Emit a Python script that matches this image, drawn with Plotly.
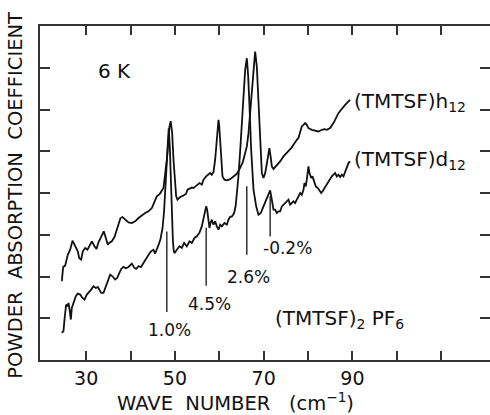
import plotly.graph_objects as go

# Far-infrared powder absorption of (TMTSF)2PF6 at 6 K, h12 and d12 samples
wn_h12 = [24.52, 24.82, 25.27, 25.87, 26.40, 26.92, 27.37, 27.75, 28.12, 28.42, 28.87, 29.25,
          29.78, 30.30, 30.68, 31.28, 31.88, 32.33, 32.78, 33.38, 33.98, 34.43, 34.88, 35.18,
          35.78, 36.38, 36.91, 37.29, 37.74, 38.19, 38.79, 39.54, 40.29, 41.04, 41.79, 42.69,
          43.29, 44.05, 44.42, 44.80, 45.92, 46.60, 47.42, 47.80, 48.18, 48.55, 48.78, 49.05,
          49.38, 49.68, 49.98, 50.28, 50.58, 51.18, 51.93, 52.53, 52.83, 53.28, 53.81, 54.18,
          54.56, 55.09, 55.54, 56.06, 56.44, 57.04, 57.56, 57.94, 58.31, 58.69, 59.07, 59.37,
          59.67, 59.82, 59.97, 60.19, 60.42, 60.72, 61.17, 61.70, 62.45, 63.20, 63.95, 64.70,
          65.30, 65.83, 66.21, 66.58, 66.96, 67.33, 67.71, 68.08, 68.46, 68.83, 69.21, 69.59,
          69.96, 70.34, 70.71, 71.09, 71.28, 71.61, 71.84, 72.21, 72.96, 73.71, 74.46, 75.21,
          75.74, 76.19, 76.71, 77.09, 77.47, 77.84, 78.22, 78.59, 78.97, 79.34, 79.72, 80.09,
          80.85, 81.60, 82.35, 83.10, 83.70, 84.22, 84.98, 85.73, 86.10, 86.48, 86.85, 87.45,
          87.98, 88.36, 89.11, 89.48]
abs_h12 = [1.886, 2.229, 2.261, 2.524, 2.643, 2.859, 2.763, 2.683, 2.603, 2.444, 2.404, 2.603,
           2.683, 2.643, 2.723, 2.843, 2.723, 2.659, 2.819, 2.962, 3.082, 2.922, 2.763, 2.803,
           2.843, 2.946, 3.138, 3.281, 3.401, 3.425, 3.361, 3.297, 3.281, 3.321, 3.401, 3.481,
           3.521, 3.560, 3.600, 3.640, 3.919, 3.980, 4.119, 4.398, 4.797, 5.275, 5.594, 5.720,
           5.435, 4.797, 4.318, 3.919, 3.840, 3.904, 3.940, 3.983, 4.078, 4.100, 4.130, 4.118,
           4.158, 4.198, 4.238, 4.199, 4.318, 4.397, 4.437, 4.477, 4.437, 4.500, 4.797, 5.196,
           5.594, 5.754, 5.634, 5.196, 4.717, 4.398, 4.318, 4.302, 4.330, 4.400, 4.460, 4.600,
           4.740, 4.956, 5.115, 5.434, 5.913, 6.471, 7.029, 7.388, 7.029, 6.072, 5.035, 4.477,
           4.358, 4.477, 4.700, 4.950, 5.076, 4.840, 4.637, 4.577, 4.657, 4.757, 4.876, 4.956,
           5.036, 5.076, 5.156, 5.235, 5.275, 5.315, 5.474, 5.594, 5.634, 5.674, 5.634, 5.554,
           5.514, 5.498, 5.474, 5.514, 5.530, 5.514, 5.554, 5.674, 5.754, 5.873, 5.913, 5.993,
           6.073, 6.112, 6.192, 6.232]

wn_d12 = [24.52, 24.89, 25.12, 25.49, 25.79, 26.02, 26.32, 26.55, 26.77, 27.15, 27.67, 28.12,
          28.65, 29.17, 29.63, 30.15, 30.53, 31.13, 31.65, 32.18, 32.63, 33.01, 33.38, 33.91,
          34.28, 34.88, 35.41, 35.93, 36.53, 36.99, 37.44, 37.89, 38.41, 38.94, 39.54, 40.29,
          40.89, 41.27, 41.79, 42.39, 42.92, 43.44, 43.89, 44.42, 44.80, 45.17, 45.55, 45.92,
          46.30, 46.75, 47.20, 47.55, 47.85, 48.15, 48.40, 48.60, 48.85, 49.10, 49.35, 49.55,
          49.75, 49.95, 50.43, 51.03, 51.56, 52.08, 52.68, 53.28, 53.81, 54.41, 54.94, 55.54,
          56.06, 56.44, 56.81, 57.04, 57.26, 57.56, 57.79, 58.02, 58.32, 58.69, 59.07, 59.44,
          59.82, 60.19, 60.57, 61.17, 61.70, 62.07, 62.45, 62.85, 63.35, 63.70, 63.95, 64.32,
          64.70, 65.08, 65.45, 65.83, 66.21, 66.51, 66.81, 67.18, 67.71, 68.31, 68.83, 69.36,
          69.96, 70.56, 71.09, 71.46, 71.84, 72.21, 72.58, 72.97, 73.33, 73.72, 74.09, 74.84,
          75.59, 75.96, 76.34, 76.71, 77.09, 77.47, 77.84, 78.22, 78.59, 78.97, 79.19, 79.49,
          79.72, 79.94, 80.09, 80.32, 80.70, 81.00, 81.45, 81.75, 82.20, 82.50, 82.95, 83.25,
          83.70, 84.22, 84.60, 84.98, 85.35, 85.73, 86.10, 86.48, 86.85, 87.23, 87.60, 87.98,
          88.36, 88.73, 89.11, 89.48]
abs_d12 = [0.650, 0.690, 0.969, 1.328, 1.288, 1.367, 1.168, 0.969, 1.248, 1.367, 1.527, 1.591,
           1.567, 1.487, 1.447, 1.567, 1.607, 1.686, 1.766, 1.726, 1.750, 1.686, 1.607, 1.607,
           1.726, 1.926, 2.045, 2.005, 1.926, 1.966, 2.085, 2.181, 2.229, 2.197, 2.229, 2.309,
           2.205, 2.181, 2.245, 2.229, 2.324, 2.420, 2.468, 2.580, 2.620, 2.640, 2.550, 2.640,
           2.750, 2.900, 3.150, 3.550, 4.100, 4.750, 5.250, 5.550, 5.100, 4.200, 3.400, 2.850,
           2.600, 2.560, 2.643, 2.723, 2.683, 2.803, 2.723, 2.843, 2.803, 2.923, 2.962, 3.050,
           3.200, 3.400, 3.601, 3.680, 3.601, 3.361, 3.162, 3.282, 3.361, 3.242, 3.322, 3.202,
           3.122, 3.242, 3.202, 3.282, 3.242, 3.361, 3.430, 3.440, 3.520, 3.700, 3.950, 4.400,
           5.000, 5.700, 6.400, 6.950, 7.228, 6.800, 6.072, 5.035, 4.078, 3.680, 3.480, 3.520,
           3.680, 3.839, 3.999, 4.063, 3.839, 3.600, 3.600, 3.520, 3.560, 3.560, 3.680, 3.760,
           3.840, 3.720, 3.760, 3.800, 3.760, 3.840, 3.919, 3.999, 3.959, 4.079, 4.238, 4.159,
           4.318, 4.557, 4.637, 4.478, 4.358, 4.398, 4.278, 4.159, 4.119, 4.079, 3.999, 4.039,
           4.119, 4.199, 4.278, 4.318, 4.398, 4.438, 4.478, 4.398, 4.438, 4.382, 4.438, 4.398,
           4.517, 4.637, 4.717, 4.757]

# isotope-shift markers under the d12 lines
shift_wn = [48.18, 57.04, 66.20, 71.46]
shift_top = [3.08, 3.17, 4.16, 3.92]
shift_bottom = [1.15, 1.78, 2.52, 2.96]
shift_text = ["1.0%", "4.5%", "2.6%", "-0.2%"]
shift_label_wn = [48.70, 57.72, 66.50, 75.29]
shift_label_y = [0.71, 1.33, 2.00, 2.69]

x_ticks = [30, 40, 50, 60, 70, 80, 90, 100, 110]
x_ticktext = ["30", "", "50", "", "70", "", "90", "", ""]
y_ticks = [1, 2, 3, 4, 5, 6, 7]

FONT = "DejaVu Sans"
INK = "#111111"
AXIS = "#333333"

fig = go.Figure()
line_style = dict(color=INK, width=1.8)
fig.add_trace(go.Scatter(x=wn_h12, y=abs_h12, mode="lines", line=line_style,
                         name="(TMTSF)h12", showlegend=False))
fig.add_trace(go.Scatter(x=wn_d12, y=abs_d12, mode="lines", line=line_style,
                         name="(TMTSF)d12", showlegend=False))

for xv, y0, y1 in zip(shift_wn, shift_top, shift_bottom):
    fig.add_trace(go.Scatter(x=[xv, xv], y=[y0, y1], mode="lines",
                             line=dict(color=INK, width=1.3),
                             showlegend=False, hoverinfo="skip"))

# carrier for the right-hand tick marks
fig.add_trace(go.Scatter(x=[None], y=[None], yaxis="y2", showlegend=False, hoverinfo="skip"))

for t, xv, yv in zip(shift_text, shift_label_wn, shift_label_y):
    fig.add_annotation(x=xv, y=yv, text=t, showarrow=False,
                       font=dict(family=FONT, size=17, color=INK),
                       xanchor="center", yanchor="middle")

fig.add_annotation(x=36.31, y=6.93, text="6 K", showarrow=False,
                   font=dict(family=FONT, size=20, color=INK),
                   xanchor="center", yanchor="middle")
fig.add_annotation(x=89.94, y=6.18, text="(TMTSF)h<sub>12</sub>", showarrow=False,
                   font=dict(family=FONT, size=20, color=INK),
                   xanchor="left", yanchor="middle")
fig.add_annotation(x=89.94, y=4.80, text="(TMTSF)d<sub>12</sub>", showarrow=False,
                   font=dict(family=FONT, size=20, color=INK),
                   xanchor="left", yanchor="middle")
fig.add_annotation(x=72.14, y=0.99, text="(TMTSF)<sub>2</sub> PF<sub>6</sub>", showarrow=False,
                   font=dict(family=FONT, size=20, color=INK),
                   xanchor="left", yanchor="middle")

fig.add_annotation(xref="paper", yref="paper", x=0.4344, y=-0.125,
                   text="WAVE\u00a0\u00a0NUMBER\u00a0\u00a0\u00a0(cm<sup>\u22121</sup>)", showarrow=False,
                   font=dict(family=FONT, size=19.5, color=INK),
                   xanchor="center", yanchor="middle")
fig.add_annotation(xref="paper", yref="paper", x=-0.0533, y=0.4918, textangle=-90,
                   text="POWDER\u00a0\u00a0ABSORPTION\u00a0\u00a0COEFFICIENT", showarrow=False,
                   font=dict(family=FONT, size=19.5, color=INK),
                   xanchor="center", yanchor="middle")

fig.update_layout(
    width=490, height=415,
    margin=dict(l=40, r=0, t=26, b=55),
    paper_bgcolor="white", plot_bgcolor="white",
    showlegend=False,
    xaxis=dict(range=[19.6, 121.0], showline=True, linecolor=AXIS, linewidth=1.5,
               mirror="ticks", ticks="inside", ticklen=9, tickwidth=1.5, tickcolor=AXIS,
               tickvals=x_ticks, ticktext=x_ticktext, showgrid=False, zeroline=False,
               tickfont=dict(family=FONT, size=19, color=INK)),
    yaxis=dict(range=[0, 8], showline=True, linecolor=AXIS, linewidth=1.5, mirror=False,
               ticks="inside", ticklen=10, tickwidth=1.5, tickcolor=AXIS,
               tickvals=y_ticks, showticklabels=False, showgrid=False, zeroline=False),
    yaxis2=dict(range=[0, 8], overlaying="y", side="right", anchor="x", showline=False,
                ticks="inside", ticklen=10, tickwidth=1.5, tickcolor=AXIS,
                tickvals=y_ticks, showticklabels=False, showgrid=False, zeroline=False),
)

fig.write_html("out.html")
